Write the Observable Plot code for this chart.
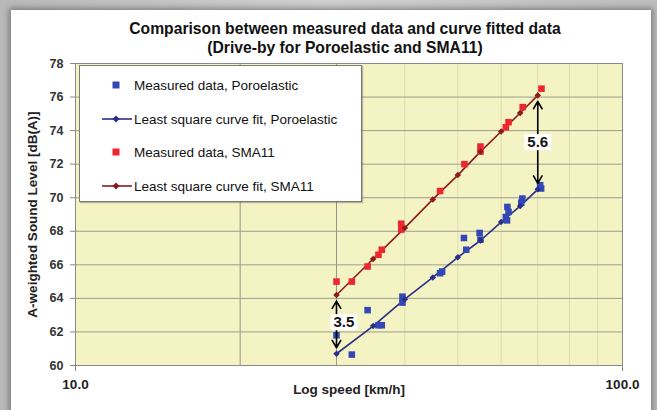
<!DOCTYPE html>
<html><head><meta charset="utf-8">
<script src="https://cdn.jsdelivr.net/npm/d3@7"></script>
<script src="https://cdn.jsdelivr.net/npm/@observablehq/plot@0.6"></script>
<style>
html,body{margin:0;padding:0;}
body{font-family:"Liberation Sans",Arial,sans-serif;}
#wrap{position:relative;width:657px;height:410px;overflow:hidden;background:linear-gradient(90deg,#b9b9b9,#cfcfcf 50%,#bdbdbd);}
#panel{position:absolute;left:11px;top:10px;width:640px;height:430px;background:#fff;box-shadow:0 0 6px 2px rgba(0,0,0,0.35);}
#title{position:absolute;left:0;top:20px;width:690px;text-align:center;font-weight:bold;font-size:15.7px;line-height:18.5px;color:#111;}
#chart{position:absolute;left:0;top:0;}
#legend{position:absolute;left:79px;top:65px;width:283px;height:137px;background:#fff;border:1px solid #7a7a7a;box-sizing:border-box;padding-top:2px;box-shadow:1px 1px 1px rgba(0,0,0,0.25);}
.row{position:relative;height:33.7px;}
.row svg{position:absolute;left:19px;top:50%;transform:translateY(-50%);}
.row span{position:absolute;left:54px;top:50%;transform:translateY(-50%);font-size:13.5px;color:#111;white-space:nowrap;}
</style>
</head><body>
<div id="wrap">
  <div id="panel"></div>
  <div id="chart"></div>
  <div id="title"></div>
  <div id="legend"></div>
</div>
<script>
// ---- data ----
const titleLines = ["Comparison between measured data and curve fitted data", "(Drive-by for Poroelastic and SMA11)"];
const seriesNames = ["Measured data, Poroelastic", "Least square curve fit, Poroelastic", "Measured data, SMA11", "Least square curve fit, SMA11"];

const poroSpeed = [30, 32, 34.2, 35.8, 36.3, 39.6, 39.6, 46.4, 46.8, 51.3, 51.8, 54.8, 55.0, 61.6, 61.9, 61.2, 61.5, 65.6, 65.3, 70.7, 71.0];
const poroLevel = [61.8, 60.65, 63.3, 62.4, 62.4, 64.1, 63.75, 65.5, 65.6, 67.6, 66.9, 67.9, 67.5, 69.45, 69.15, 68.85, 68.65, 69.95, 69.7, 70.75, 70.55];

const smaSpeed = [30, 32, 34.2, 35.8, 36.3, 39.4, 39.4, 46.4, 51.4, 55.0, 55.0, 61.9, 61.2, 65.7, 71.1];
const smaLevel = [65.0, 65.0, 65.9, 66.6, 66.9, 68.45, 68.1, 70.4, 72.0, 73.05, 72.75, 74.5, 74.2, 75.4, 76.5];

const fitSpeed = [30, 35, 40, 45, 50, 55, 60, 65, 70];
const fitPoro = [60.7, 62.35, 63.95, 65.25, 66.45, 67.45, 68.55, 69.5, 70.5];
const fitSma = [64.2, 66.35, 68.2, 69.9, 71.35, 72.75, 73.95, 75.05, 76.1];

const annSpeed = [30, 70];
const annLow = [60.7, 70.5];
const annHigh = [64.2, 76.1];
const annText = ["3.5", "5.6"];

const xTicks = [10, 100];
const yTicks = [60, 62, 64, 66, 68, 70, 72, 74, 76, 78];
const gridXDark = [20, 30];
const gridXLight = [40, 50, 60, 70, 80, 90];
const gridY = [62, 64, 66, 68, 70, 72, 74, 76];
const xLabel = "Log speed [km/h]";
const yLabel = "A-weighted Sound Level [dB(A)]";

// ---- styles ----
const C = {
  poroDot: "#3348b5", poroLine: "#2b2f86",
  smaDot: "#ee2630", smaLine: "#8c1c1c"
};

const pts = (xs, ys) => xs.map((x, i) => ({x, y: ys[i]}));
const poro = pts(poroSpeed, poroLevel);
const sma = pts(smaSpeed, smaLevel);
const fp = pts(fitSpeed, fitPoro);
const fs = pts(fitSpeed, fitSma);
const ann = annSpeed.map((x, i) => ({x, lo: annLow[i], hi: annHigh[i], mid: (annLow[i] + annHigh[i]) / 2, text: annText[i]}));

const chart = Plot.plot({
  width: 657, height: 410,
  marginLeft: 75, marginRight: 35, marginTop: 63, marginBottom: 45,
  style: {background: "transparent", fontFamily: "'Liberation Sans', Arial, sans-serif", fontSize: "12px", fontWeight: "bold", color: "#222", overflow: "visible"},
  x: {type: "log", domain: [10, 100]},
  y: {domain: [60, 78]},
  marks: [
    Plot.frame({fill: "#f4f3c4", stroke: null}),
    Plot.ruleX(gridXLight, {stroke: "#dcdcb2"}),
    Plot.ruleX(gridXDark, {stroke: "#96958a"}),
    Plot.ruleY(gridY, {stroke: "#9e9d90"}),
    Plot.frame({stroke: "#8a8a8a"}),
    Plot.axisX({ticks: xTicks, tickFormat: d3.format(".1f"), tickSize: 6, tickPadding: 8, stroke: "#888", fill: "#222", fontSize: 13.5,
      label: xLabel, labelAnchor: "center", labelArrow: "none", labelOffset: 28}),
    Plot.axisY({ticks: yTicks, tickSize: 5, tickPadding: 7, stroke: "#888", fill: "#333", fontSize: 12.5, label: null}),
    Plot.axisY({ticks: [], fill: "#222", fontSize: 13.5,
      label: yLabel, labelAnchor: "center", labelArrow: "none", labelOffset: 48}),
    Plot.line(fp, {x: "x", y: "y", stroke: C.poroLine, strokeWidth: 1.6}),
    Plot.line(fs, {x: "x", y: "y", stroke: C.smaLine, strokeWidth: 1.6}),
    Plot.dot(poro, {x: "x", y: "y", symbol: "square", r: 3.7, fill: C.poroDot}),
    Plot.dot(sma, {x: "x", y: "y", symbol: "square", r: 3.7, fill: C.smaDot}),
    Plot.dot(fp, {x: "x", y: "y", symbol: "square", rotate: 45, r: 2.6, fill: C.poroLine}),
    Plot.dot(fs, {x: "x", y: "y", symbol: "square", rotate: 45, r: 2.6, fill: C.smaLine}),
    Plot.arrow(ann, {x1: "x", x2: "x", y1: "mid", y2: "hi", stroke: "#000", strokeWidth: 1.6, headLength: 8, insetEnd: 6, bend: 0}),
    Plot.arrow(ann, {x1: "x", x2: "x", y1: "mid", y2: "lo", stroke: "#000", strokeWidth: 1.6, headLength: 8, insetEnd: 6, bend: 0}),
    Plot.text(ann.slice(0, 1), {x: "x", y: "mid", text: "text", textAnchor: "start", dx: -3, dy: -2, fontSize: 15, fontWeight: "bold", fill: "#111"}),
    Plot.text(ann.slice(1), {x: "x", y: "mid", text: "text", textAnchor: "middle", fontSize: 15, fontWeight: "bold", fill: "#111"})
  ]
});
document.getElementById("chart").appendChild(chart);

// white boxes behind annotation labels
chart.querySelectorAll("text").forEach(t => {
  if (!annText.includes(t.textContent.trim())) return;
  const b = t.getBBox();
  const r = document.createElementNS("http://www.w3.org/2000/svg", "rect");
  r.setAttribute("x", b.x - 3); r.setAttribute("y", b.y + 1);
  r.setAttribute("width", b.width + 6); r.setAttribute("height", b.height - 1);
  r.setAttribute("fill", "#fff");
  const tr = t.getAttribute("transform");
  if (tr) r.setAttribute("transform", tr);
  t.parentNode.insertBefore(r, t);
});

// title
document.getElementById("title").innerHTML = titleLines.join("<br>");

// legend
const legendStyle = [
  {kind: "square", color: C.poroDot},
  {kind: "line", color: C.poroLine},
  {kind: "square", color: C.smaDot},
  {kind: "line", color: C.smaLine}
];
const leg = document.getElementById("legend");
seriesNames.forEach((name, i) => {
  const s = legendStyle[i];
  const row = document.createElement("div");
  row.className = "row";
  const sym = s.kind === "square"
    ? `<rect x="13.5" y="4.5" width="7" height="7" fill="${s.color}"/>`
    : `<line x1="3" x2="33" y1="8" y2="8" stroke="${s.color}" stroke-width="1.6"/><rect x="14.5" y="5.5" width="5" height="5" fill="${s.color}" transform="rotate(45 17 8)"/>`;
  row.innerHTML = `<svg width="34" height="16">${sym}</svg><span>${name}</span>`;
  leg.appendChild(row);
});
</script>
</body></html>
